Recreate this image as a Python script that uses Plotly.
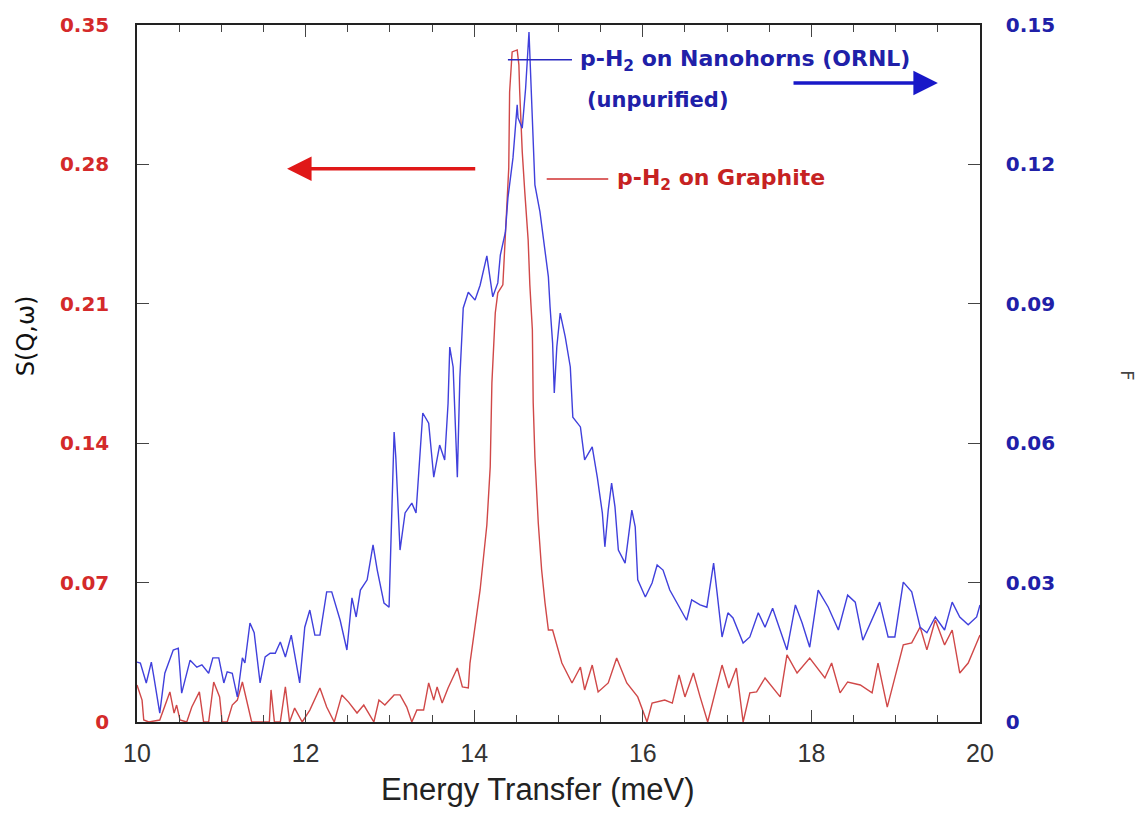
import plotly.graph_objects as go

# ---------------- data ----------------
nano_x = [10.00,10.04,10.11,10.17,10.20,10.27,10.33,10.43,10.49,10.53,10.63,10.71,10.77,10.85,10.90,10.97,11.03,11.07,11.13,11.19,
          11.25,11.28,11.34,11.39,11.46,11.52,11.58,11.64,11.70,11.76,11.83,11.87,11.93,11.99,12.05,12.11,12.17,12.25,12.31,12.41,
          12.49,12.55,12.60,12.65,12.73,12.80,12.85,12.93,12.99,13.02,13.05,13.07,13.12,13.18,13.26,13.31,13.36,13.39,13.46,13.52,
          13.59,13.65,13.69,13.71,13.75,13.80,13.83,13.87,13.93,14.01,14.07,14.15,14.22,14.28,14.31,14.37,14.40,14.46,14.51,14.52,
          14.57,14.61,14.65,14.69,14.72,14.78,14.84,14.88,14.90,14.93,14.95,14.98,15.02,15.08,15.14,15.17,15.26,15.31,15.40,15.46,
          15.52,15.55,15.59,15.63,15.67,15.71,15.79,15.87,15.91,15.94,16.03,16.11,16.17,16.24,16.32,16.52,16.58,16.68,16.76,16.84,
          16.88,16.94,17.01,17.07,17.19,17.27,17.37,17.45,17.54,17.60,17.71,17.81,17.89,17.98,18.08,18.20,18.32,18.43,18.52,18.61,
          18.81,18.91,18.99,19.09,19.19,19.29,19.37,19.47,19.58,19.67,19.76,19.86,19.96,20.00]
nano_y = [0.0129,0.0127,0.0084,0.0129,0.0097,0.0019,0.0105,0.0155,0.0159,0.0062,0.0133,0.0118,0.0123,0.0105,0.0138,0.0138,0.0084,0.0108,0.0105,0.0054,
          0.0138,0.0127,0.0213,0.0192,0.0084,0.0140,0.0148,0.0148,0.0172,0.0140,0.0187,0.0148,0.0084,0.0204,0.0241,0.0187,0.0187,0.0280,0.0280,0.0219,
          0.0155,0.0267,0.0226,0.0284,0.0306,0.0381,0.0327,0.0256,0.0247,0.0435,0.0624,0.0570,0.0370,0.0450,0.0471,0.0450,0.0585,0.0665,0.0643,0.0527,
          0.0596,0.0564,0.0686,0.0807,0.0764,0.0527,0.0742,0.0891,0.0925,0.0908,0.0940,0.1003,0.0915,0.0945,0.1005,0.1054,0.1128,0.1214,0.1328,0.1300,
          0.1278,0.1364,0.1485,0.1285,0.1156,0.1098,0.1016,0.0958,0.0893,0.0816,0.0708,0.0807,0.0880,0.0829,0.0764,0.0656,0.0635,0.0564,0.0592,0.0527,
          0.0450,0.0377,0.0456,0.0514,0.0463,0.0370,0.0342,0.0456,0.0420,0.0306,0.0269,0.0299,0.0338,0.0327,0.0284,0.0219,0.0263,0.0252,0.0247,0.0342,
          0.0280,0.0183,0.0235,0.0224,0.0170,0.0183,0.0235,0.0204,0.0245,0.0213,0.0155,0.0252,0.0213,0.0161,0.0284,0.0247,0.0198,0.0273,0.0258,0.0176,
          0.0258,0.0183,0.0183,0.0301,0.0280,0.0204,0.0192,0.0226,0.0198,0.0258,0.0226,0.0209,0.0226,0.0252]

graph_x = [10.00,10.06,10.08,10.14,10.27,10.39,10.44,10.47,10.51,10.59,10.65,10.74,10.79,10.85,10.91,10.98,11.01,11.07,11.13,11.19,
           11.25,11.30,11.36,11.57,11.59,11.63,11.70,11.76,11.81,11.87,11.96,12.05,12.17,12.25,12.34,12.43,12.51,12.61,12.69,12.81,
           12.87,12.94,13.05,13.12,13.20,13.26,13.32,13.40,13.46,13.52,13.56,13.62,13.69,13.80,13.86,13.93,13.95,14.07,14.15,14.19,
           14.21,14.25,14.28,14.34,14.39,14.41,14.42,14.45,14.51,14.53,14.54,14.57,14.60,14.64,14.66,14.69,14.70,14.72,14.76,14.80,
           14.84,14.88,14.93,15.04,15.16,15.26,15.31,15.40,15.47,15.59,15.69,15.81,15.94,16.05,16.11,16.26,16.35,16.43,16.50,16.60,
           16.68,16.77,16.94,17.02,17.11,17.19,17.27,17.35,17.45,17.63,17.71,17.83,17.98,18.16,18.24,18.34,18.43,18.58,18.72,18.79,
           18.90,19.09,19.19,19.29,19.37,19.47,19.58,19.67,19.76,19.86,20.00]
graph_y = [0.0186,0.0110,0.0010,0.0,0.0010,0.0151,0.0045,0.0085,0.0010,0.0,0.0075,0.0151,0.0,0.0,0.0201,0.0126,0.0,0.0,0.0085,0.0110,
           0.0201,0.0110,0.0,0.0,0.0161,0.0,0.0,0.0176,0.0,0.0070,0.0,0.0060,0.0171,0.0075,0.0,0.0136,0.0100,0.0045,0.0085,0.0,
           0.0110,0.0085,0.0136,0.0136,0.0075,0.0,0.0060,0.0060,0.0196,0.0110,0.0176,0.0095,0.0171,0.0271,0.0176,0.0171,0.0296,0.0663,0.0989,0.1281,
           0.1703,0.2054,0.2155,0.2195,0.2582,0.2783,0.3164,0.3365,0.3375,0.3300,0.3164,0.2863,0.2662,0.2421,0.2195,0.1969,0.1602,0.1331,0.0999,0.0763,
           0.0598,0.0462,0.0462,0.0296,0.0196,0.0276,0.0161,0.0286,0.0151,0.0196,0.0321,0.0196,0.0126,0.0,0.0095,0.0110,0.0095,0.0236,0.0126,0.0246,
           0.0126,0.0,0.0286,0.0171,0.0271,0.0,0.0146,0.0151,0.0221,0.0126,0.0337,0.0246,0.0321,0.0221,0.0296,0.0146,0.0201,0.0186,0.0146,0.0296,
           0.0075,0.0387,0.0397,0.0477,0.0362,0.0512,0.0387,0.0462,0.0246,0.0296,0.0437]

if len(nano_x) != len(nano_y) or len(graph_x) != len(graph_y):
    raise SystemExit(f"length mismatch {len(nano_x)} {len(nano_y)} {len(graph_x)} {len(graph_y)}")

x_ticks = [10, 12, 14, 16, 18, 20]
left_ticks = [0, 0.07, 0.14, 0.21, 0.28, 0.35]
left_labels = ["0", "0.07", "0.14", "0.21", "0.28", "0.35"]
right_ticks = [0, 0.03, 0.06, 0.09, 0.12, 0.15]
right_labels = ["0", "0.03", "0.06", "0.09", "0.12", "0.15"]

RED = "#d04848"
BLUE = "#4040dc"
RED_TXT = "#d42a2a"
BLUE_TXT = "#2020a8"

fig = go.Figure()
fig.add_trace(go.Scatter(x=nano_x, y=nano_y, mode="lines", yaxis="y2",
                         line=dict(color=BLUE, width=1.4), showlegend=False))
fig.add_trace(go.Scatter(x=graph_x, y=graph_y, mode="lines", yaxis="y",
                         line=dict(color=RED, width=1.4), showlegend=False))

fig.update_layout(
    width=1148, height=816,
    margin=dict(l=137, r=168, t=25, b=94),
    paper_bgcolor="white", plot_bgcolor="white",
    xaxis=dict(range=[10, 20], tickvals=x_ticks, ticks="inside", ticklen=12, tickwidth=1.3,
               showline=True, linecolor="#222", linewidth=1.5, mirror="ticks",
               showgrid=False, zeroline=False,
               minor=dict(dtick=0.5, ticks="inside", ticklen=7, tickwidth=1.2, showgrid=False),
               tickfont=dict(family="Liberation Sans, Arial, sans-serif", size=25, color="#333"),
               ticklabelstandoff=8),
    yaxis=dict(range=[0, 0.35], tickvals=left_ticks, ticktext=left_labels, ticks="inside",
               ticklen=12, tickwidth=1.3, showline=True, linecolor="#222", linewidth=1.5,
               mirror="ticks", showgrid=False, zeroline=False,
               tickfont=dict(family="DejaVu Sans", size=20, color=RED_TXT, weight="bold"),
               ticklabelstandoff=22),
    yaxis2=dict(range=[0, 0.15], overlaying="y", side="right", tickvals=right_ticks,
                ticktext=right_labels, ticks="inside", ticklen=12, tickwidth=1.3,
                showline=True, linecolor="#222", linewidth=1.5, showgrid=False, zeroline=False,
                tickfont=dict(family="DejaVu Sans", size=20, color=BLUE_TXT, weight="bold"),
                ticklabelstandoff=20),
)

annotations = [
    dict(text="S(Q,ω)", xref="paper", yref="paper", x=-0.1317, y=0.555, textangle=-90,
         showarrow=False, font=dict(family="DejaVu Sans", size=24, color="#111"),
         xanchor="center", yanchor="middle"),
    dict(text="Energy Transfer (meV)", xref="paper", yref="paper", x=0.4757, y=-0.097,
         showarrow=False, font=dict(family="Liberation Sans, Arial, sans-serif", size=31, color="#222"),
         xanchor="center", yanchor="middle"),
    dict(text="F", xref="paper", yref="paper", x=1.175, y=0.498, textangle=90,
         showarrow=False, font=dict(family="DejaVu Sans", size=18, color="#444"),
         xanchor="center", yanchor="middle"),
    dict(text="p-H<sub>2</sub> on Nanohorns (ORNL)", xref="x", yref="y", x=15.231, y=0.332,
         showarrow=False, xanchor="left", yanchor="middle",
         font=dict(family="DejaVu Sans", size=22, color=BLUE_TXT, weight="bold")),
    dict(text="(unpurified)", xref="x", yref="y", x=15.314, y=0.3124,
         showarrow=False, xanchor="left", yanchor="middle",
         font=dict(family="DejaVu Sans", size=21, color=BLUE_TXT, weight="bold")),
    dict(text="p-H<sub>2</sub> on Graphite", xref="x", yref="y", x=15.67, y=0.2722,
         showarrow=False, xanchor="left", yanchor="middle",
         font=dict(family="DejaVu Sans", size=22, color="#c62222", weight="bold")),
    # arrows
    dict(text="", xref="x", yref="y", x=11.78, y=0.2778, axref="x", ayref="y", ax=14.03, ay=0.2778,
         showarrow=True, arrowhead=2, arrowsize=1.4, arrowwidth=3.5, arrowcolor="#e01818"),
    dict(text="", xref="x", yref="y", x=19.50, y=0.3209, axref="x", ayref="y", ax=17.77, ay=0.3209,
         showarrow=True, arrowhead=2, arrowsize=1.4, arrowwidth=3.5, arrowcolor="#1818c8"),
]
fig.update_layout(annotations=annotations)

fig.add_shape(type="line", xref="x", yref="y", x0=14.40, x1=15.16, y0=0.3325, y1=0.3325,
              line=dict(color="#2828c0", width=1.5))
fig.add_shape(type="line", xref="x", yref="y", x0=14.86, x1=15.59, y0=0.2727, y1=0.2727,
              line=dict(color="#d03030", width=1.5))

fig.write_html("out.html")
